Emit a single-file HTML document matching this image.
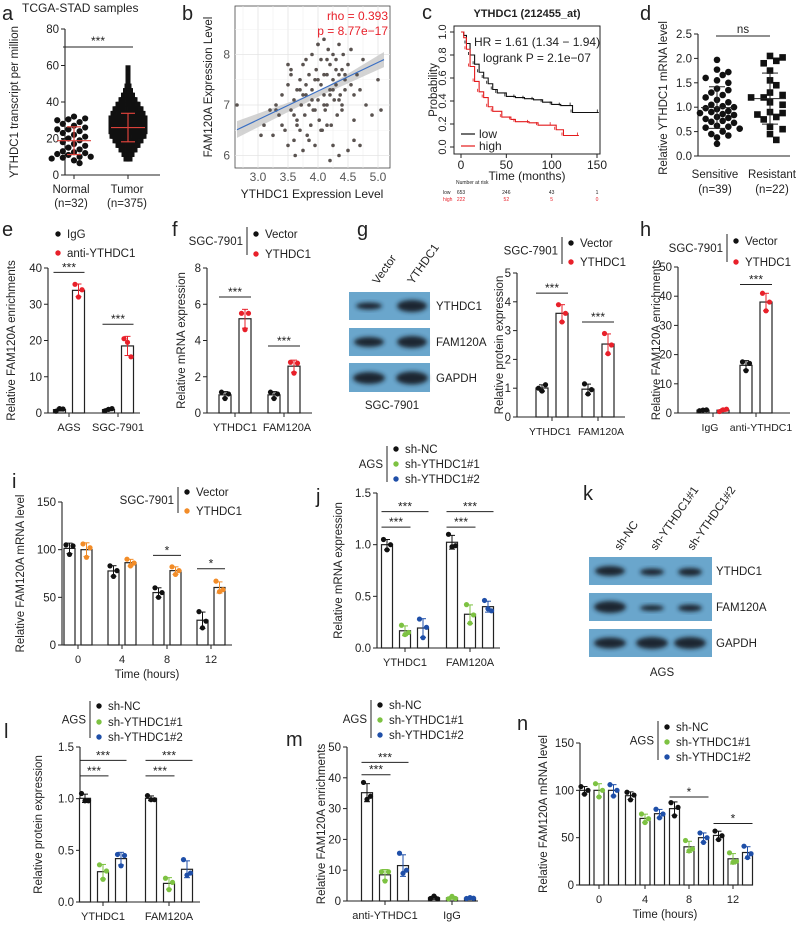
<!DOCTYPE html>
<html><head><meta charset="utf-8"><style>
html,body{margin:0;padding:0;background:#fff;}
svg{display:block;font-family:"Liberation Sans",sans-serif;}
</style></head><body>
<svg id="fig" width="800" height="928" viewBox="0 0 800 928" xmlns="http://www.w3.org/2000/svg">
<defs><filter id="blur" x="-20%" y="-50%" width="140%" height="200%"><feGaussianBlur stdDeviation="2.2"/></filter></defs>
</svg>
<script>
// ---------- data ----------
const normalVals=[32,31,30.5,30,29,28,27,26,25,25,24,23,22,21,20,19,18,17,16,15,14,13,12.5,12,11.5,11,10,10,9.5,9,8,6.5];
const tumorBinStart=[7.5,10,12.5,15,17.5,20,22.5,25,27.5,30,32.5,35,37.5,40,42.5,45,47.5,50,52.5,55,57.5];
const tumorBinCount=[4,8,14,20,26,32,36,38,36,34,30,26,20,14,9,5,2,1,1,1,1];
const tumorMean=26, tumorSD=7.8, normalMean=18.8, normalSD=7.6;
const bX=[2.65,3.05,3.1,3.2,3.25,3.3,3.35,3.4,3.45,3.5,3.5,3.55,3.55,3.6,3.6,3.62,3.65,3.65,3.7,3.7,3.72,3.75,3.75,3.78,3.8,3.8,3.82,3.85,3.85,3.88,3.9,3.9,3.92,3.95,3.95,3.97,4.0,4.0,4.02,4.05,4.05,4.07,4.1,4.1,4.12,4.15,4.15,4.17,4.2,4.2,4.22,4.25,4.25,4.27,4.3,4.3,4.32,4.35,4.35,4.37,4.4,4.4,4.42,4.45,4.45,4.5,4.5,4.55,4.55,4.6,4.6,4.65,4.7,4.75,4.8,4.9,5.0,5.05,3.6,3.7,3.8,3.9,4.0,4.1,4.2,4.3,4.4,3.5,3.65,3.75,3.95,4.05,4.15,4.25,4.35,4.45,4.0,4.2,3.85,4.1,3.4,3.3,4.6,4.7,3.55,4.25,4.35,4.15];
const bY=[7.0,6.4,6.6,6.9,6.4,7.0,6.8,7.2,6.5,6.2,7.4,6.9,7.6,6.3,7.1,6.0,7.3,6.7,6.5,7.5,7.0,6.1,7.8,6.8,7.2,7.9,6.4,7.0,7.6,6.6,7.3,8.0,6.9,7.5,6.2,7.7,7.1,8.2,6.7,7.4,7.9,6.5,7.2,8.3,6.9,7.6,7.0,8.1,7.3,7.8,6.6,7.5,8.0,7.1,7.4,7.9,6.8,7.6,8.2,7.2,7.7,6.9,8.0,7.3,7.5,7.8,6.1,7.4,8.1,7.2,6.7,7.6,7.3,7.9,7.0,6.8,7.5,6.9,6.8,7.3,7.4,7.1,7.5,7.6,7.2,7.7,7.0,7.8,6.6,7.2,6.9,6.5,7.9,7.3,7.1,7.6,8.2,5.9,6.3,7.0,6.6,6.9,6.3,6.2,7.7,6.2,6.0,6.6,6.3,8.4];
const kmLowT=[0,3,6,10,15,20,25,30,35,40,50,60,70,80,90,100,110,122,123,152];
const kmLowS=[1,0.97,0.9,0.8,0.72,0.65,0.6,0.55,0.5,0.47,0.44,0.43,0.42,0.41,0.39,0.37,0.36,0.36,0.3,0.3];
const kmHighT=[0,3,6,10,15,20,25,30,35,45,55,60,75,85,100,105,113,130];
const kmHighS=[1,0.95,0.85,0.7,0.57,0.48,0.43,0.35,0.31,0.26,0.24,0.22,0.21,0.19,0.19,0.15,0.1,0.1];
const sensVals=[1.97,1.77,1.72,1.66,1.55,1.6,1.5,1.38,1.35,1.3,1.25,1.2,1.15,1.1,1.05,1.02,1.0,0.98,0.96,0.92,0.9,0.88,0.86,0.84,0.8,0.78,0.76,0.72,0.7,0.68,0.62,0.6,0.58,0.56,0.5,0.45,0.42,0.38,0.25];
const resVals=[2.05,2.02,1.95,1.9,1.75,1.55,1.45,1.3,1.25,1.2,1.2,1.1,1.05,0.9,0.88,0.85,0.8,0.75,0.6,0.55,0.45,0.33];
// bar panels
const eGroups=['AGS','SGC-7901'];
const eIgG=[[0.5,1.2,1.1],[0.6,1.0,1.2]];
const eAnti=[[35.5,32,34],[20.5,19.5,15.5]];
const fGroups=['YTHDC1','FAM120A'];
const fVector=[[1.15,0.8,1.05],[1.15,0.8,1.05]];
const fYTHDC1=[[5.5,4.6,5.5],[2.8,2.2,2.75]];
const gGroups=['YTHDC1','FAM120A'];
const gVector=[[1.0,0.9,1.12],[1.15,0.8,0.95]];
const gYTHDC1=[[3.9,3.3,3.6],[2.9,2.2,2.5]];
const hGroups=['IgG','anti-YTHDC1'];
const hVector=[[0.8,1.0,1.1],[17.5,14.5,17]];
const hYTHDC1=[[0.5,1.1,1.3],[41,35,38]];
const iGroups=['0','4','8','12'];
const iVector=[[105,95,104],[83,72,78],[60,50,55],[35,18,25]];
const iYTHDC1=[[106,92,102],[90,83,86],[82,74,78],[67,56,58]];
const jGroups=['YTHDC1','FAM120A'];
const jNC=[[1.05,0.95,1.0],[1.1,0.98,0.99]];
const jSh1=[[0.22,0.13,0.15],[0.42,0.24,0.32]];
const jSh2=[[0.28,0.1,0.2],[0.46,0.38,0.36]];
const lGroups=['YTHDC1','FAM120A'];
const lNC=[[1.05,0.98,0.98],[1.03,0.99,0.99]];
const lSh1=[[0.36,0.22,0.3],[0.23,0.12,0.19]];
const lSh2=[[0.46,0.35,0.45],[0.41,0.26,0.28]];
const mGroups=['anti-YTHDC1','IgG'];
const mNC=[[38.5,33,34],[0.8,1.6,0.7]];
const mSh1=[[9.5,6.5,9.5],[0.7,1.5,0.8]];
const mSh2=[[15.5,9,10],[0.8,1.1,0.9]];
const nGroups=['0','4','8','12'];
const nNC=[[104,96,100],[98,90,95],[87,73,82],[57,48,52]];
const nSh1=[[107,93,100],[75,66,70],[47,36,38],[34,24,25]];
const nSh2=[[106,94,100],[80,71,75],[55,45,50],[41,29,33]];

// ---------- helpers ----------
const NS='http://www.w3.org/2000/svg';
const svg=document.getElementById('fig');
const FS=11.5;
function mk(tag,attrs,name){
  const el=document.createElementNS(NS,tag);
  for(const k in attrs) el.setAttribute(k,attrs[k]);
  
  
  svg.appendChild(el);
  return el;
}
function line(x1,y1,x2,y2,c,w,name){return mk('line',{x1,y1,x2,y2,stroke:c||'#222','stroke-width':w||1},name||'line');}
function txt(x,y,s,o,name){
  o=o||{};
  const a={x,y,'font-size':o.size||FS,fill:o.color||'#222','text-anchor':o.anchor||'start'};
  if(o.weight)a['font-weight']=o.weight;
  if(o.rot!==undefined)a.transform='rotate('+o.rot+' '+x+' '+y+')';
  const t=mk('text',a,name||'label');t.textContent=s;return t;
}
function dot(x,y,r,c,name){return mk('circle',{cx:x,cy:y,r,fill:c},name||'dot');}
function mean(a){return a.reduce((s,v)=>s+v,0)/a.length;}
function sd(a){const m=mean(a);return Math.sqrt(a.reduce((s,v)=>s+(v-m)*(v-m),0)/(a.length-1));}
function swarm(vals,scale,d){
  const placed=[];const out=[];
  vals.forEach(v=>{const y=scale(v);let k=0,x=0;
    while(true){x=(k%2?1:-1)*Math.ceil(k/2)*d*0.9;
      if(!placed.some(p=>Math.hypot(p[0]-x,p[1]-y)<d))break;k++;}
    placed.push([x,y]);out.push([x,y]);});
  return out;
}
function letter(x,y,s){txt(x,y,s,{size:20},'panel-letter-'+s);}
function yTitle(x,yc,s,key){txt(x,yc,s,{anchor:'middle',rot:-90,size:11.5},key+'-y-axis-title');}

function legend(key,lx,y1,y2,cell,entries,rowY){
  if(cell){line(lx,y1,lx,y2,'#222',1,key+'-legend-divider');
    txt(lx-4,(y1+y2)/2+4,cell,{anchor:'end'},key+'-legend-cell-line');}
  entries.forEach((e,i)=>{dot(lx+(cell?9:0),rowY[i],2.7,e[1],key+'-legend-marker');
    txt(lx+(cell?18:9),rowY[i]+4,e[0],{},key+'-legend-entry');});
}

function barChart(c){
  const k=c.key;
  const ys=v=>c.y0-(v/c.max)*(c.y0-c.yTop);
  line(c.ax,c.yTop,c.ax,c.y0,'#222',1.1,k+'-y-axis');
  line(c.ax,c.y0,c.xEnd,c.y0,'#222',1.1,k+'-x-axis');
  c.ticks.forEach(t=>{line(c.ax-4,ys(t),c.ax,ys(t),'#222',1,k+'-y-tick');
    txt(c.ax-6,ys(t)+4,c.fmt?c.fmt(t):String(t),{anchor:'end'},k+'-y-tick-label');});
  const n=c.series.length;
  c.gx.forEach((gx,gi)=>{
    line(gx,c.y0,gx,c.y0+4,'#222',1,k+'-x-tick');
    txt(gx+(c.lx?c.lx[gi]:0),c.y0+18,c.groups[gi],{anchor:'middle',size:c.xs||11},k+'-x-tick-label');
    c.series.forEach((s,si)=>{
      const reps=s.reps[gi];const m=mean(reps),e=sd(reps);
      const cx=gx+(si-(n-1)/2)*c.sp;
      mk('rect',{x:cx-c.bw/2,y:ys(m),width:c.bw,height:c.y0-ys(m),fill:'#fff',stroke:'#222','stroke-width':1.2},k+'-bar');
      line(cx,ys(m+e),cx,ys(m-e),s.color,1,k+'-error-bar');
      line(cx-3,ys(m+e),cx+3,ys(m+e),s.color,1,k+'-error-cap');
      line(cx-3,ys(m-e),cx+3,ys(m-e),s.color,1,k+'-error-cap');
      const off=[-3.5,0,3.5];
      reps.forEach((v,ri)=>dot(cx+off[ri],ys(v),2.6,s.color,k+'-replicate-point'));
    });
  });
  (c.sig||[]).forEach(g=>{
    const x1=c.gx[g[0]]+(g[1]-(n-1)/2)*c.sp-c.bw/2, x2=c.gx[g[0]]+(g[2]-(n-1)/2)*c.sp+c.bw/2;
    line(x1,ys(g[3]),x2,ys(g[3]),'#222',1,k+'-significance-bracket');
    txt((x1+x2)/2,ys(g[3])-1,g[4],{anchor:'middle',size:12},k+'-significance-label');
  });
  yTitle(c.tx,(c.y0+c.yTop)/2,c.title,k);
  if(c.xTitle) txt((c.ax+c.xEnd)/2,c.y0+33,c.xTitle,{anchor:'middle'},k+'-x-axis-title');
}

const RED='#e8202a',ORG='#f28c28',GRN='#7dc242',BLU='#1f4fa8',BLK='#111';

// ---------- panel a ----------
letter(2,20,'a');
txt(22,12,'TCGA-STAD samples',{size:12},'a-title');
(function(){
  const ys=v=>175-v*(146/80);
  line(65,29,65,175,'#222',1.1,'a-y-axis');line(65,175,160,175,'#222',1.1,'a-x-axis');
  [0,20,40,60,80].forEach(t=>{line(61,ys(t),65,ys(t),'#222',1,'a-y-tick');txt(59,ys(t)+4,String(t),{anchor:'end'},'a-y-tick-label');});
  swarm(normalVals,ys,6.2).forEach(p=>dot(74+p[0],p[1],3.1,BLK,'a-normal-point'));
  tumorBinStart.forEach((b,i)=>{const cnt=tumorBinCount[i];const w=Math.min(cnt*1.0,34);
    for(let j=0;j<cnt;j++){const x=cnt==1?0:-w/2+w*j/(cnt-1);
      mk('rect',{x:128+x-2.5,y:ys(b+1.25)-2.5,width:5,height:5,fill:BLK},'a-tumor-point');}});
  [[74,normalMean,normalSD],[128,tumorMean,tumorSD]].forEach(g=>{
    line(g[0]-17,ys(g[1]),g[0]+17,ys(g[1]),'#d9413a',1.2,'a-mean-line');
    line(g[0],ys(g[1]-g[2]),g[0],ys(g[1]+g[2]),'#d9413a',1.2,'a-sd-bar');
    line(g[0]-7,ys(g[1]-g[2]),g[0]+7,ys(g[1]-g[2]),'#d9413a',1.2,'a-sd-cap');
    line(g[0]-7,ys(g[1]+g[2]),g[0]+7,ys(g[1]+g[2]),'#d9413a',1.2,'a-sd-cap');});
  line(63,47,133,47,'#222',1,'a-significance-bracket');
  txt(98,45,'***',{anchor:'middle',size:12},'a-significance-label');
  line(74,175,74,179,'#222',1,'a-x-tick');line(128,175,128,179,'#222',1,'a-x-tick');
  txt(71,193,'Normal',{anchor:'middle'},'a-x-tick-label');txt(71,207,'(n=32)',{anchor:'middle'},'a-x-tick-label');
  txt(127,193,'Tumor',{anchor:'middle'},'a-x-tick-label');txt(127,207,'(n=375)',{anchor:'middle'},'a-x-tick-label');
  yTitle(18,102,'YTHDC1 transcript per million','a');
})();

// ---------- panel b ----------
letter(182,20,'b');
(function(){
  const xs=v=>258+(v-3)*60, ys=v=>105-(v-7)*50.5;
  mk('rect',{x:235,y:6,width:155,height:162,fill:'#fff',stroke:'#444','stroke-width':0.8},'b-plot-frame');
  [3,3.5,4,4.5,5].forEach(t=>{line(xs(t),6,xs(t),168,'#e4e4e4',0.8,'b-grid-x');
    txt(xs(t),181,t.toFixed(1),{anchor:'middle',size:12,color:'#555'},'b-x-tick-label');});
  [2.75,3.25,3.75,4.25,4.75].forEach(t=>line(xs(t),6,xs(t),168,'#f0f0f0',0.6,'b-grid-x-minor'));
  [6,7,8].forEach(t=>{line(235,ys(t),390,ys(t),'#e4e4e4',0.8,'b-grid-y');
    txt(230,ys(t)+4,String(t),{anchor:'end',size:12,color:'#555'},'b-y-tick-label');});
  [6.5,7.5,8.5].forEach(t=>line(235,ys(t),390,ys(t),'#f0f0f0',0.6,'b-grid-y-minor'));
  mk('polygon',{points:[[xs(2.65),ys(6.35)],[xs(4.0),ys(7.16)],[xs(5.1),ys(7.75)],[xs(5.1),ys(8.05)],[xs(4.0),ys(7.26)],[xs(2.65),ys(6.68)]].map(p=>p.join(',')).join(' '),fill:'#c8c8c8',opacity:0.8},'b-confidence-band');
  bX.forEach((x,i)=>dot(xs(x),ys(bY[i]),1.8,'#5a5350','b-point'));
  line(xs(2.65),ys(6.51),xs(5.1),ys(7.9),'#3a6fc4',1.2,'b-regression-line');
  txt(388,20,'rho = 0.393',{anchor:'end',size:12,color:RED},'b-rho-label');
  txt(388,35,'p = 8.77e\u221217',{anchor:'end',size:12,color:RED},'b-p-label');
  txt(312,198,'YTHDC1 Expression Level',{anchor:'middle',size:12},'b-x-axis-title');
  yTitle(212,87,'FAM120A Expression Level','b');
})();

// ---------- panel c ----------
letter(422,19,'c');
(function(){
  const xs=v=>461+v*(136/150), ys=v=>147-v*115;
  txt(527,17,'YTHDC1 (212455_at)',{anchor:'middle',size:11,weight:'bold'},'c-title');
  mk('rect',{x:454,y:26,width:146,height:128,fill:'none',stroke:'#222','stroke-width':1},'c-plot-frame');
  [0,50,100,150].forEach(t=>{line(xs(t),154,xs(t),158,'#222',1,'c-x-tick');txt(xs(t),169,String(t),{anchor:'middle',size:12},'c-x-tick-label');});
  [0,0.2,0.4,0.6,0.8,1.0].forEach(t=>{line(450,ys(t),454,ys(t),'#222',1,'c-y-tick');txt(446,ys(t),t.toFixed(1),{anchor:'middle',size:11,rot:-90},'c-y-tick-label');});
  function km(T,S,col,nm){let d='M'+xs(T[0])+','+ys(S[0]);
    for(let i=1;i<T.length;i++){d+=' H'+xs(T[i])+' V'+ys(S[i]);}
    mk('path',{d,fill:'none',stroke:col,'stroke-width':1.1},nm);
    for(let i=2;i<T.length;i++){line(xs(T[i])-1.5,ys(S[i]),xs(T[i])-1.5,ys(S[i])-3,col,0.8,nm+'-censor');}}
  km(kmLowT,kmLowS,'#111','c-low-curve');km(kmHighT,kmHighS,'#e41a1c','c-high-curve');
  txt(474,46,'HR = 1.61 (1.34 \u2212 1.94)',{size:12},'c-hr-label');
  txt(483,62,'logrank P = 2.1e\u221207',{size:12},'c-logrank-label');
  line(461,134,475,134,'#111',1.2,'c-legend-low-line');txt(479,138,'low',{size:12},'c-legend-low');
  line(461,146,475,146,'#e41a1c',1.2,'c-legend-high-line');txt(479,150,'high',{size:12},'c-legend-high');
  txt(527,180,'Time (months)',{anchor:'middle',size:12},'c-x-axis-title');
  yTitle(437,90,'Probability','c');
  txt(456,184,'Number at risk',{size:5},'c-risk-title');
  txt(443,194,'low',{size:5},'c-risk-low');txt(443,201,'high',{size:5,color:RED},'c-risk-high');
  [['653','222',0],['246','52',50],['43','5',100],['1','0',150]].forEach(r=>{txt(xs(r[2]),194,r[0],{size:5,anchor:'middle'},'c-risk-count');txt(xs(r[2]),201,r[1],{size:5,anchor:'middle',color:RED},'c-risk-count');});
})();

// ---------- panel d ----------
letter(640,20,'d');
(function(){
  const ys=v=>156-v*48.8;
  line(698,34,698,156,'#222',1.1,'d-y-axis');line(698,156,790,156,'#222',1.1,'d-x-axis');
  [0,0.5,1,1.5,2,2.5].forEach(t=>{line(694,ys(t),698,ys(t),'#222',1,'d-y-tick');txt(692,ys(t)+4,t.toFixed(1),{anchor:'end'},'d-y-tick-label');});
  swarm(sensVals,ys,6.3).forEach(p=>dot(717+p[0],p[1],3.3,BLK,'d-sensitive-point'));
  swarm(resVals,ys,7.0).forEach(p=>mk('rect',{x:770+p[0]-3.3,y:p[1]-3.3,width:6.6,height:6.6,fill:BLK},'d-resistant-point'));
  [[717,sensVals],[770,resVals]].forEach(g=>{const m=mean(g[1]),s=sd(g[1]);
    line(g[0]-16,ys(m),g[0]+16,ys(m),'#222',1,'d-mean-line');line(g[0],ys(m-s),g[0],ys(m+s),'#222',1,'d-sd-bar');
    line(g[0]-8,ys(m-s),g[0]+8,ys(m-s),'#222',1,'d-sd-cap');line(g[0]-8,ys(m+s),g[0]+8,ys(m+s),'#222',1,'d-sd-cap');});
  line(716,36,770,36,'#222',1,'d-significance-bracket');txt(743,33,'ns',{anchor:'middle'},'d-significance-label');
  txt(715,178,'Sensitive',{anchor:'middle'},'d-x-tick-label');txt(715,193,'(n=39)',{anchor:'middle'},'d-x-tick-label');
  txt(772,178,'Resistant',{anchor:'middle'},'d-x-tick-label');txt(772,193,'(n=22)',{anchor:'middle'},'d-x-tick-label');
  yTitle(667,98,'Relative YTHDC1 mRNA level','d');
})();

// ---------- row 2 ----------
letter(2,236,'e');
legend('e',58,0,0,null,[['IgG',BLK],['anti-YTHDC1',RED]],[234,253]);
barChart({key:'e',ax:48,xEnd:140,y0:413,yTop:268,max:40,ticks:[0,10,20,30,40],gx:[69,118],groups:eGroups,bw:12,sp:19,
  series:[{reps:eIgG,color:BLK},{reps:eAnti,color:RED}],sig:[[0,0,1,38.8,'***'],[1,0,1,24.5,'***']],tx:15,title:'Relative FAM120A enrichments'});

letter(172,236,'f');
legend('f',247,227,255,'SGC-7901',[['Vector',BLK],['YTHDC1',RED]],[234,254]);
barChart({key:'f',ax:207,xEnd:312,y0:413,yTop:268,max:8,ticks:[0,2,4,6,8],gx:[235,284],lx:[0,3],groups:fGroups,bw:12,sp:20,
  series:[{reps:fVector,color:BLK},{reps:fYTHDC1,color:RED}],sig:[[0,0,1,6.4,'***'],[1,0,1,3.7,'***']],tx:185,title:'Relative mRNA expression'});

letter(357,236,'g');
(function(){
  mk('rect',{x:349,y:292,width:81,height:28,fill:'#6aa6cc'},'g-blot-ythdc1');
  mk('rect',{x:349,y:328,width:81,height:28,fill:'#6aa6cc'},'g-blot-fam120a');
  mk('rect',{x:349,y:363,width:81,height:29,fill:'#6aa6cc'},'g-blot-gapdh');
  [[369,306,13,3.5],[412,306,15,6],[369,342,15,5],[412,342,15,6],[369,378,16,6],[412,378,16,6.5]].forEach(b=>mk('ellipse',{cx:b[0],cy:b[1],rx:b[2],ry:b[3],fill:'#1a2530',filter:'url(#blur)'},'g-band'));
  txt(436,310,'YTHDC1',{},'g-blot-label');txt(436,346,'FAM120A',{},'g-blot-label');txt(436,382,'GAPDH',{},'g-blot-label');
  txt(392,409,'SGC-7901',{anchor:'middle'},'g-blot-cell-line');
  txt(378,285,'Vector',{rot:-55},'g-lane-label');txt(413,285,'YTHDC1',{rot:-55},'g-lane-label');
})();
legend('g2',562,237,264,'SGC-7901',[['Vector',BLK],['YTHDC1',RED]],[243,262]);
barChart({key:'g2',ax:517,xEnd:625,y0:417,yTop:273,max:5,ticks:[0,1,2,3,4,5],gx:[552,598],lx:[-2,3],xs:10.5,groups:gGroups,bw:12,sp:20,
  series:[{reps:gVector,color:BLK},{reps:gYTHDC1,color:RED}],sig:[[0,0,1,4.3,'***'],[1,0,1,3.3,'***']],tx:503,title:'Relative protein expression'});

letter(640,236,'h');
legend('h',727,234,262,'SGC-7901',[['Vector',BLK],['YTHDC1',RED]],[241,262]);
barChart({key:'h',ax:678,xEnd:790,y0:413,yTop:267,max:50,ticks:[0,10,20,30,40,50],gx:[713,756],lx:[-3,5],xs:10.5,groups:hGroups,bw:12,sp:20,
  series:[{reps:hVector,color:BLK},{reps:hYTHDC1,color:RED}],sig:[[1,0,1,44,'***']],tx:660,title:'Relative FAM120A enrichments'});

// ---------- row 3 ----------
letter(12,488,'i');
legend('i',178,487,513,'SGC-7901',[['Vector',BLK],['YTHDC1',ORG]],[492,511]);
barChart({key:'i',ax:62,xEnd:232,y0:645,yTop:502,max:150,ticks:[0,50,100,150],gx:[78,122,167,211],groups:iGroups,bw:11,sp:17,
  series:[{reps:iVector,color:BLK},{reps:iYTHDC1,color:ORG}],sig:[[2,0,1,94,'*'],[3,0,1,80,'*']],tx:24,title:'Relative FAM120A mRNA level',xTitle:'Time (hours)'});

letter(316,503,'j');
legend('j',387,446,482,'AGS',[['sh-NC',BLK],['sh-YTHDC1#1',GRN],['sh-YTHDC1#2',BLU]],[449,464,479]);
barChart({key:'j',ax:377,xEnd:500,y0:648,yTop:493,max:1.5,ticks:[0,0.5,1,1.5],fmt:t=>t.toFixed(1),gx:[405,470],groups:jGroups,bw:11,sp:18,
  series:[{reps:jNC,color:BLK},{reps:jSh1,color:GRN},{reps:jSh2,color:BLU}],sig:[[0,0,1,1.17,'***'],[0,0,2,1.32,'***'],[1,0,1,1.17,'***'],[1,0,2,1.32,'***']],tx:342,title:'Relative mRNA expression'});

letter(583,500,'k');
(function(){
  mk('rect',{x:589,y:557,width:123,height:28,fill:'#6aa6cc'},'k-blot-ythdc1');
  mk('rect',{x:589,y:593,width:123,height:28,fill:'#6aa6cc'},'k-blot-fam120a');
  mk('rect',{x:589,y:629,width:123,height:28,fill:'#6aa6cc'},'k-blot-gapdh');
  [[610,571,15,5],[652,572,12,3.5],[690,572,12,4],[610,607,16,6],[652,608,12,3],[690,608,12,3.5],[610,643,16,5.5],[652,643,16,6],[690,643,16,6]].forEach(b=>mk('ellipse',{cx:b[0],cy:b[1],rx:b[2],ry:b[3],fill:'#1a2530',filter:'url(#blur)'},'k-band'));
  txt(716,575,'YTHDC1',{},'k-blot-label');txt(716,611,'FAM120A',{},'k-blot-label');txt(716,647,'GAPDH',{},'k-blot-label');
  txt(662,676,'AGS',{anchor:'middle'},'k-blot-cell-line');
  txt(620,551,'sh-NC',{rot:-55},'k-lane-label');txt(656,551,'sh-YTHDC1#1',{rot:-55},'k-lane-label');txt(693,551,'sh-YTHDC1#2',{rot:-55},'k-lane-label');
})();

// ---------- row 4 ----------
letter(4,738,'l');
legend('l',90,701,738,'AGS',[['sh-NC',BLK],['sh-YTHDC1#1',GRN],['sh-YTHDC1#2',BLU]],[706,722,737]);
barChart({key:'l',ax:80,xEnd:200,y0:902,yTop:747,max:1.5,ticks:[0,0.5,1,1.5],fmt:t=>t.toFixed(1),gx:[103,169],groups:lGroups,bw:11,sp:18,
  series:[{reps:lNC,color:BLK},{reps:lSh1,color:GRN},{reps:lSh2,color:BLU}],sig:[[0,0,1,1.22,'***'],[0,0,2,1.37,'***'],[1,0,1,1.22,'***'],[1,0,2,1.37,'***']],tx:42,title:'Relative protein expression'});

letter(286,746,'m');
legend('m',371,700,738,'AGS',[['sh-NC',BLK],['sh-YTHDC1#1',GRN],['sh-YTHDC1#2',BLU]],[705,720,735]);
barChart({key:'m',ax:347,xEnd:478,y0:901,yTop:747,max:50,ticks:[0,10,20,30,40,50],gx:[385,452],groups:mGroups,bw:11,sp:18,
  series:[{reps:mNC,color:BLK},{reps:mSh1,color:GRN},{reps:mSh2,color:BLU}],sig:[[0,0,1,41,'***'],[0,0,2,45,'***']],tx:325,title:'Relative FAM120A enrichments'});

letter(517,730,'n');
legend('n',658,721,760,'AGS',[['sh-NC',BLK],['sh-YTHDC1#1',GRN],['sh-YTHDC1#2',BLU]],[727,742,757]);
barChart({key:'n',ax:580,xEnd:750,y0:885,yTop:743,max:150,ticks:[0,50,100,150],gx:[599,645,689,733],groups:nGroups,bw:10,sp:14.5,
  series:[{reps:nNC,color:BLK},{reps:nSh1,color:GRN},{reps:nSh2,color:BLU}],sig:[[2,0,2,93,'*'],[3,0,2,65,'*']],tx:547,title:'Relative FAM120A mRNA level',xTitle:'Time (hours)'});
</script>
</body></html>
